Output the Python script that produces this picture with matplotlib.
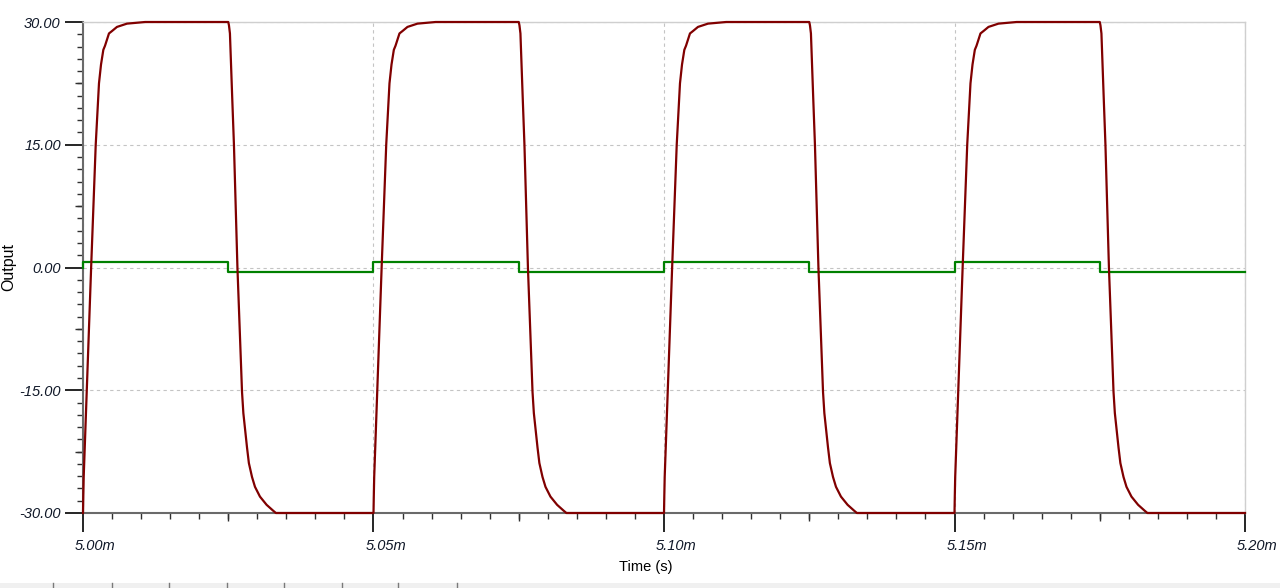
import matplotlib
matplotlib.use('Agg')
import matplotlib.pyplot as plt
import matplotlib.transforms as mtransforms
from matplotlib.ticker import MultipleLocator, FuncFormatter
from matplotlib.patches import Rectangle
from matplotlib.lines import Line2D

plt.rcParams['font.family'] = ['Liberation Sans', 'DejaVu Sans']

# edge times (ms) of the drive square wave
rise_edges = [5.000, 5.050, 5.100, 5.150]
fall_edges = [5.025, 5.075, 5.125, 5.175]

# output shape after each edge (offset in us, volts)
rise_dt = [0.0, 0.05, 0.12, 1.4, 2.19, 2.75, 3.1, 3.5, 3.79, 4.47, 5.0, 5.85, 7.57, 10.7]
rise_v = [-30.0, -28.0, -25.6, 0.0, 15.0, 22.5, 24.8, 26.6, 27.1, 28.6, 28.9, 29.4, 29.8, 30.0]
fall_dt = [0.0, 0.12, 0.29, 0.69, 0.98, 1.58, 2.37, 2.6, 3.23, 3.55, 4.09, 4.6, 5.46, 6.6, 7.7, 8.2]
fall_v = [30.0, 29.6, 28.6, 20.6, 15.0, 0.0, -15.2, -17.8, -22.0, -23.9, -25.6, -26.8, -28.0, -29.0, -29.7, -30.0]

# input square wave (steps)
in_t = [5.000, 5.000, 5.025, 5.050, 5.075, 5.100, 5.125, 5.150, 5.175, 5.200]
in_v = [0.0, 0.7, -0.6, 0.7, -0.6, 0.7, -0.6, 0.7, -0.6, -0.6]

out_t, out_v = [], []
for r, f in zip(rise_edges, fall_edges):
    out_t += [r + d / 1000 for d in rise_dt]
    out_v += rise_v
    out_t += [f + d / 1000 for d in fall_dt]
    out_v += fall_v
out_t.append(5.200)
out_v.append(-30.0)

fig = plt.figure(figsize=(12.8, 5.88), dpi=100)
ax = fig.add_axes([83/1280, 1 - 513/588, (1245-83)/1280, (513-22)/588])

ax.plot(in_t, in_v, color='#008000', lw=1.6, drawstyle='steps-post', clip_on=False, zorder=3)
ax.plot(out_t, out_v, color='#800000', lw=1.6, clip_on=False, zorder=4)

ax.set_xlim(5.0, 5.2)
ax.set_ylim(-30, 30)

ax.xaxis.set_major_locator(MultipleLocator(0.05))
ax.xaxis.set_minor_locator(MultipleLocator(0.005))
ax.yaxis.set_major_locator(MultipleLocator(15))
ax.yaxis.set_minor_locator(MultipleLocator(1.5))
ax.xaxis.set_major_formatter(FuncFormatter(lambda x, p: f'{x:.2f}m'))
ax.yaxis.set_major_formatter(FuncFormatter(lambda y, p: f'{y:.2f}'))

ax.grid(True, which='major', color='#c4c4c4', ls=(0, (3, 3)), lw=0.8)
ax.set_axisbelow(True)

for s in ['top', 'right']:
    ax.spines[s].set_color('#cfcfcf')
    ax.spines[s].set_linewidth(1.0)
for s in ['left', 'bottom']:
    ax.spines[s].set_color('#6a6a6a')
    ax.spines[s].set_linewidth(1.5)

ax.tick_params(which='major', direction='out', color='black', width=1.2, labelsize=10.5,
               labelcolor='#101828')
ax.tick_params(axis='y', which='major', length=13, pad=3)
ax.tick_params(axis='x', which='major', length=14, pad=5)
ax.tick_params(which='minor', direction='out', length=4, width=1.0, color='#303030')

for lab in ax.get_xticklabels() + ax.get_yticklabels():
    lab.set_fontstyle('italic')

offset = mtransforms.ScaledTranslation(-8/100, 0, fig.dpi_scale_trans)
for lab in ax.get_xticklabels():
    lab.set_horizontalalignment('left')
    lab.set_transform(lab.get_transform() + offset)

# half-way ticks, a bit longer
secy = ax.secondary_yaxis('left')
secy.set_yticks([-22.5, -7.5, 7.5, 22.5])
secy.set_yticklabels([])
secy.tick_params(length=6, width=1.0, color='#303030')
secy.spines['left'].set_visible(False)
secx = ax.secondary_xaxis('bottom')
secx.set_xticks([5.025, 5.075, 5.125, 5.175])
secx.set_xticklabels([])
secx.tick_params(length=6, width=1.0, color='#303030')
secx.spines['bottom'].set_visible(False)

fig.text(646/1280, 1 - 567/588, 'Time (s)', ha='center', va='center', fontsize=10.5)
fig.text(9/1280, 1 - 267/588, 'Output', ha='center', va='center', rotation=90, fontsize=11.5)

# status strip at the very bottom
fig.patches.append(Rectangle((0, 0), 1, 5/588, transform=fig.transFigure,
                             facecolor='#f0f0f0', edgecolor='none'))
for px in [53, 112, 169, 227, 284, 342, 398, 457]:
    fig.add_artist(Line2D([px/1280, px/1280], [0, 5/588], color='#7a7a7a', lw=1.0))

fig.savefig('out.png', dpi=100)
